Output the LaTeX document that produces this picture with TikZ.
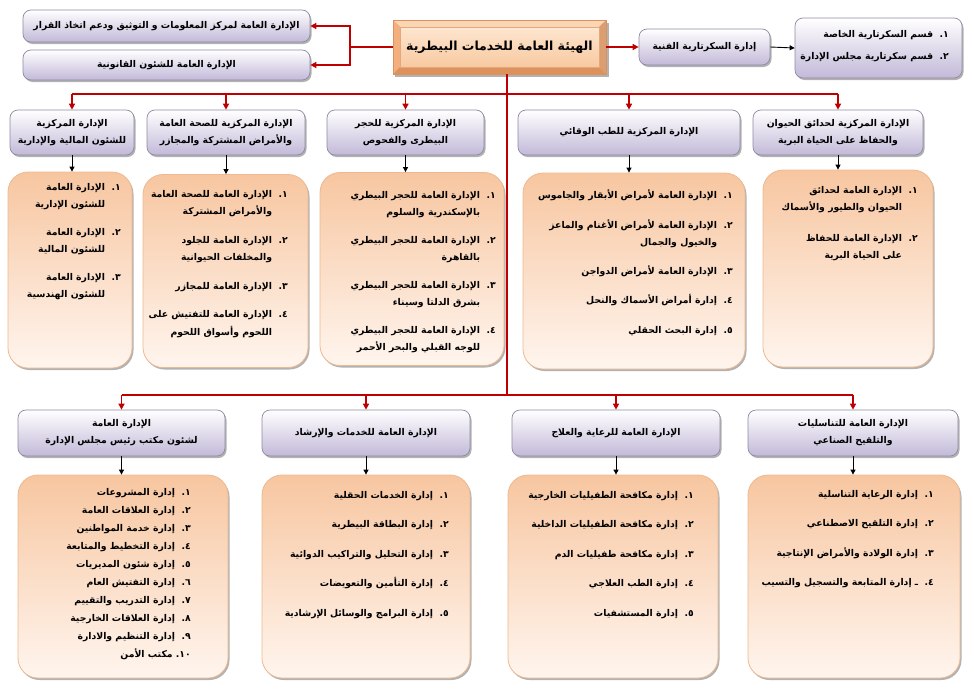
\documentclass[tikz,border=0pt]{standalone}
\usepackage{fontspec}
\newfontfamily\arabicfont[Script=Arabic]{DejaVu Sans}
\TeXXeTstate=1
\usetikzlibrary{arrows.meta,shadows}
\definecolor{lav}{HTML}{C2B9D8}
\definecolor{lavborder}{HTML}{8E8AA2}
\definecolor{peach}{HTML}{F7C6A0}
\definecolor{peachlight}{HTML}{FFF5EE}
\definecolor{peachborder}{HTML}{EDB98F}
\definecolor{connred}{HTML}{C00000}
\definecolor{bevA}{HTML}{F3B07E}
\definecolor{bevLight}{HTML}{FAD6B4}
\definecolor{bevDark}{HTML}{DC925A}
\definecolor{faceTop}{HTML}{FDE6D0}
\definecolor{faceBot}{HTML}{F8C9A0}
\newcommand{\RL}[1]{\beginR #1\endR}
\newcommand{\hfont}{\arabicfont\bfseries\fontsize{9.3}{17}\selectfont}
\newcommand{\lfont}{\arabicfont\bfseries\fontsize{9.3}{17.5}\selectfont}
\newcommand{\ind}{\phantom{١.\ \ }}
\tikzset{
  conn/.style={draw=connred, line width=1.5pt},
  connarr/.style={conn, -{Triangle[length=6pt,width=6pt]}},
  blkarr/.style={draw=black, line width=0.9pt, -{Triangle[length=5pt,width=5pt]}},
  sh/.style={drop shadow={shadow xshift=1.5pt, shadow yshift=-2pt, fill=black, opacity=0.3}},
  hdr/.style={sh, draw=lavborder, line width=0.7pt, rounded corners=8pt, top color=white, bottom color=lav, align=center, font=\hfont, inner sep=2pt},
  lst/.style={sh, draw=peachborder, line width=0.8pt, rounded corners=20pt, top color=peach, bottom color=peachlight},
  ltxt/.style={align=right, font=\lfont, inner sep=0pt, anchor=north east},
}
\begin{document}
\begin{tikzpicture}[x=1pt,y=-1pt]
\fill[white] (0,0) rectangle (974,688);
\useasboundingbox (0,0) rectangle (974,688);

% ---------- main box (bevel) ----------
\coordinate (mNW) at (393,20);
\coordinate (mNE) at (606,20);
\coordinate (mSE) at (606,74);
\coordinate (mSW) at (393,74);
\coordinate (iNW) at (400,27);
\coordinate (iNE) at (599,27);
\coordinate (iSE) at (599,67);
\coordinate (iSW) at (400,67);
\fill[black, opacity=0.3] (395,23) rectangle (609,77);
\fill[bevLight] (mNW) -- (mNE) -- (iNE) -- (iNW) -- cycle;
\fill[bevA] (mNW) -- (iNW) -- (iSW) -- (mSW) -- cycle;
\fill[bevDark] (mSW) -- (iSW) -- (iSE) -- (mSE) -- cycle;
\fill[bevA!90!black] (mNE) -- (mSE) -- (iSE) -- (iNE) -- cycle;
\shade[top color=faceTop, bottom color=faceBot] (iNW) rectangle (iSE);
\draw[bevDark, line width=0.6pt] (mNW) rectangle (mSE);
\draw[bevDark!80, line width=0.4pt] (iNW) rectangle (iSE);
\node[minimum width=213pt, minimum height=54pt, inner sep=0pt, font=\arabicfont\bfseries\fontsize{12.5}{15}\selectfont] (top) at (499.5,47) {\RL{الهيئة العامة للخدمات البيطرية}};

% ---------- top row ----------
\node[hdr, minimum width=287pt, minimum height=32pt] (tl1) at (166.5,26) {\RL{الإدارة العامة لمركز المعلومات و التوثيق ودعم اتخاذ القرار}};
\node[hdr, minimum width=287pt, minimum height=30pt] (tl2) at (166.5,65) {\RL{الإدارة العامة للشئون القانونية}};
\node[hdr, minimum width=131pt, minimum height=36pt] (sec) at (704.5,47) {\RL{إدارة السكرتارية الفنية}};
\node[hdr, minimum width=167pt, minimum height=60pt] (secl) at (878.5,48) {};
\node[ltxt, font=\arabicfont\bfseries\fontsize{9.3}{22}\selectfont] (seclt) at (949,30) {\RL{١.\ \ قسم السكرتارية الخاصة}\\ \RL{٢.\ \ قسم سكرتارية مجلس الإدارة}};

\coordinate (jl) at (350,47);
\draw[conn] (top.west) -- (jl);
\draw[connarr] (jl) |- (tl1.east);
\draw[connarr] (jl) |- (tl2.east);
\draw[connarr] (top.east) -- (sec.west);
\draw[blkarr] (sec.east) -- (secl.west);

% ---------- second row ----------
\node[hdr, minimum width=124pt, minimum height=45pt] (hA) at (72,132.5) {\RL{الإدارة المركزية}\\ \RL{للشئون المالية والإدارية}};
\node[hdr, minimum width=158pt, minimum height=45pt] (hB) at (226,132.5) {\RL{الإدارة المركزية للصحة العامة}\\ \RL{والأمراض المشتركة والمجازر}};
\node[hdr, minimum width=157pt, minimum height=45pt] (hC) at (405.5,132.5) {\RL{الإدارة المركزية للحجر}\\ \RL{البيطرى والفحوص}};
\node[hdr, minimum width=222pt, minimum height=45pt] (hD) at (629,132.5) {\RL{الإدارة المركزية للطب الوقائي}};
\node[hdr, minimum width=170pt, minimum height=45pt] (hE) at (838,132.5) {\RL{الإدارة المركزية لحدائق الحيوان}\\ \RL{والحفاظ على الحياة البرية}};

\node[lst, minimum width=124pt, minimum height=196pt] (lA) at (70,270) {};
\node[lst, minimum width=165pt, minimum height=193pt] (lB) at (225.5,271) {};
\node[lst, minimum width=184pt, minimum height=193pt] (lC) at (412,269) {};
\node[lst, minimum width=222pt, minimum height=196pt] (lD) at (634,271) {};
\node[lst, minimum width=170pt, minimum height=197pt] (lE) at (848,268.5) {};

\node[ltxt] (tA) at (121,183) {\RL{١.\ \ الإدارة العامة}\\ \RL{للشئون الإدارية}\ind\\[10pt]
 \RL{٢.\ \ الإدارة العامة}\\ \RL{للشئون المالية}\ind\\[10pt]
 \RL{٣.\ \ الإدارة العامة}\\ \RL{للشئون الهندسية}\ind};
\node[ltxt] (tB) at (288,190) {\RL{١.\ \ الإدارة العامة للصحة العامة}\\ \RL{والأمراض المشتركة}\ind\\[11pt]
 \RL{٢.\ \ الإدارة العامة للجلود}\\ \RL{والمخلفات الحيوانية}\ind\\[11pt]
 \RL{٣.\ \ الإدارة العامة للمجازر}\\[11pt]
 \RL{٤.\ \ الإدارة العامة للتفتيش على}\\ \RL{اللحوم وأسواق اللحوم}\ind};
\node[ltxt] (tC) at (496,191) {\RL{١.\ \ الإدارة العامة للحجر البيطري}\\ \RL{بالإسكندرية والسلوم}\ind\\[10pt]
 \RL{٢.\ \ الإدارة العامة للحجر البيطري}\\ \RL{بالقاهرة}\ind\\[10pt]
 \RL{٣.\ \ الإدارة العامة للحجر البيطري}\\ \RL{بشرق الدلتا وسيناء}\ind\\[10pt]
 \RL{٤.\ \ الإدارة العامة للحجر البيطري}\\ \RL{للوجه القبلي والبحر الأحمر}\ind};
\node[ltxt] (tD) at (733,190) {\RL{١.\ \ الإدارة العامة لأمراض الأبقار والجاموس}\\[12pt]
 \RL{٢.\ \ الإدارة العامة لأمراض الأغنام والماعز}\\ \RL{والخيول والجمال}\ind\\[11pt]
 \RL{٣.\ \ الإدارة العامة لأمراض الدواجن}\\[12pt]
 \RL{٤.\ \ إدارة أمراض الأسماك والنحل}\\[12pt]
 \RL{٥.\ \ إدارة البحث الحقلي}};
\node[ltxt] (tE) at (918,186) {\RL{١.\ \ الإدارة العامة لحدائق}\\ \RL{الحيوان والطيور والأسماك}\ind\\[13pt]
 \RL{٢.\ \ الإدارة العامة للحفاظ}\\ \RL{على الحياة البرية}\ind};

\coordinate (b1) at (507,94);
\coordinate (b2) at (507,395);
\draw[conn] (top.south -| b1) -- (b2);
\draw[conn] (hA.north |- b1) -- (hE.north |- b1);
\foreach \n in {hA,hB,hC,hD,hE} \draw[connarr] (\n.north |- b1) -- (\n.north);
\foreach \h/\l in {hA/lA,hB/lB,hC/lC,hD/lD,hE/lE} \draw[blkarr] (\h.south) -- (\h.south |- \l.north);

% ---------- third row ----------
\node[hdr, minimum width=207pt, minimum height=46pt] (bH1) at (121.5,433) {\RL{الإدارة العامة}\\ \RL{لشئون مكتب رئيس مجلس الإدارة}};
\node[hdr, minimum width=208pt, minimum height=46pt] (bH2) at (366,433) {\RL{الإدارة العامة للخدمات والإرشاد}};
\node[hdr, minimum width=208pt, minimum height=46pt] (bH3) at (616,433) {\RL{الإدارة العامة للرعاية والعلاج}};
\node[hdr, minimum width=210pt, minimum height=46pt] (bH4) at (853,433) {\RL{الإدارة العامة للتناسليات}\\ \RL{والتلقيح الصناعي}};

\node[lst, minimum width=210pt, minimum height=203pt] (bL1) at (123,576.5) {};
\node[lst, minimum width=208pt, minimum height=203pt] (bL2) at (366,576.5) {};
\node[lst, minimum width=210pt, minimum height=203pt] (bL3) at (613,576.5) {};
\node[lst, minimum width=212pt, minimum height=203pt] (bL4) at (854,576.5) {};

\node[ltxt, font=\arabicfont\bfseries\fontsize{9.3}{18}\selectfont] (t1) at (191,488) {\RL{١.\ \ إدارة المشروعات}\\ \RL{٢.\ \ إدارة العلاقات العامة}\\ \RL{٣.\ \ إدارة خدمة المواطنين}\\ \RL{٤.\ \ إدارة التخطيط والمتابعة}\\ \RL{٥.\ \ إدارة شئون المديريات}\\ \RL{٦.\ \ إدارة التفتيش العام}\\ \RL{٧.\ \ إدارة التدريب والتقييم}\\ \RL{٨.\ \ إدارة العلاقات الخارجية}\\ \RL{٩.\ \ إدارة التنظيم والادارة}\\ \RL{١٠.\ مكتب الأمن}};
\node[ltxt, font=\arabicfont\bfseries\fontsize{9.3}{29.5}\selectfont] (t2) at (449,491) {\RL{١.\ \ إدارة الخدمات الحقلية}\\ \RL{٢.\ \ إدارة البطاقة البيطرية}\\ \RL{٣.\ \ إدارة التحليل والتراكيب الدوائية}\\ \RL{٤.\ \ إدارة التأمين والتعويضات}\\ \RL{٥.\ \ إدارة البرامج والوسائل الإرشادية}};
\node[ltxt, font=\arabicfont\bfseries\fontsize{9.3}{29.5}\selectfont] (t3) at (694,491) {\RL{١.\ \ إدارة مكافحة الطفيليات الخارجية}\\ \RL{٢.\ \ إدارة مكافحة الطفيليات الداخلية}\\ \RL{٣.\ \ إدارة مكافحة طفيليات الدم}\\ \RL{٤.\ \ إدارة الطب العلاجي}\\ \RL{٥.\ \ إدارة المستشفيات}};
\node[ltxt, font=\arabicfont\bfseries\fontsize{9.3}{29.5}\selectfont] (t4) at (934,490) {\RL{١.\ \ إدارة الرعاية التناسلية}\\ \RL{٢.\ \ إدارة التلقيح الاصطناعي}\\ \RL{٣.\ \ إدارة الولادة والأمراض الإنتاجية}\\ \RL{٤.\ \ ـ إدارة المتابعة والتسجيل والتسيب}};

\draw[conn] (bH1.north |- b2) -- (bH4.north |- b2);
\foreach \n in {bH1,bH2,bH3,bH4} \draw[connarr] (\n.north |- b2) -- (\n.north);
\foreach \h/\l in {bH1/bL1,bH2/bL2,bH3/bL3,bH4/bL4} \draw[blkarr] (\h.south) -- (\h.south |- \l.north);
\end{tikzpicture}
\end{document}
